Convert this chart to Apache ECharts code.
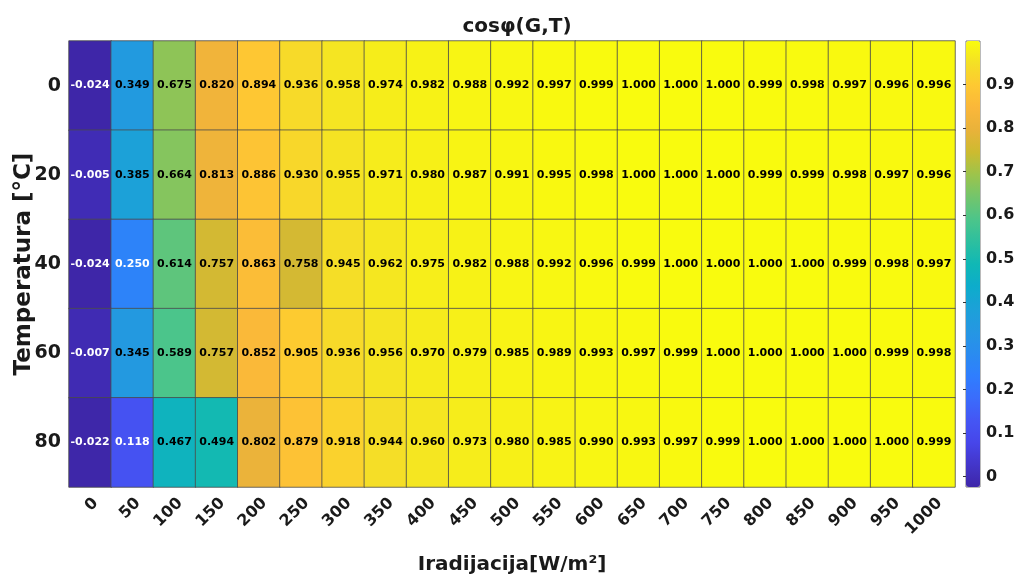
<!DOCTYPE html>
<html>
<head>
<meta charset="utf-8">
<script src="https://cdn.jsdelivr.net/npm/echarts@6/dist/echarts.min.js"></script>
<style>
html,body{margin:0;padding:0;background:#fff;}
#chart{width:1016px;height:577px;}
</style>
</head>
<body>
<div id="chart"></div>
<script>
const irradiance = ['0','50','100','150','200','250','300','350','400','450','500','550','600','650','700','750','800','850','900','950','1000'];
const temperature = ['0','20','40','60','80'];
const cosT0  = [-0.024,0.349,0.675,0.820,0.894,0.936,0.958,0.974,0.982,0.988,0.992,0.997,0.999,1.000,1.000,1.000,0.999,0.998,0.997,0.996,0.996];
const cosT20 = [-0.005,0.385,0.664,0.813,0.886,0.930,0.955,0.971,0.980,0.987,0.991,0.995,0.998,1.000,1.000,1.000,0.999,0.999,0.998,0.997,0.996];
const cosT40 = [-0.024,0.250,0.614,0.757,0.863,0.758,0.945,0.962,0.975,0.982,0.988,0.992,0.996,0.999,1.000,1.000,1.000,1.000,0.999,0.998,0.997];
const cosT60 = [-0.007,0.345,0.589,0.757,0.852,0.905,0.936,0.956,0.970,0.979,0.985,0.989,0.993,0.997,0.999,1.000,1.000,1.000,1.000,0.999,0.998];
const cosT80 = [-0.022,0.118,0.467,0.494,0.802,0.879,0.918,0.944,0.960,0.973,0.980,0.985,0.990,0.993,0.997,0.999,1.000,1.000,1.000,1.000,0.999];
const colorbarTicks = [0,0.1,0.2,0.3,0.4,0.5,0.6,0.7,0.8,0.9];
const colorMin = -0.024;
const colorMax = 1.0;

const parula = ['#3E26A8','#4336CA','#4746EA','#4456F4','#3A6DFC','#2F7EFE','#2A8CEF','#2597E2','#1CA1D8','#0DACCB','#10B8B5','#2DBF9F','#4CC58A','#73C56C','#9CC44C','#CCBB30','#E9B23A','#FAB73A','#FEC832','#F4E026','#F9FB0E'];

const rows = [cosT0, cosT20, cosT40, cosT60, cosT80];
const heatData = [];
rows.forEach((row, yi) => {
  row.forEach((v, xi) => {
    heatData.push({value:[xi, yi, v], label:{color: v < 0.3 ? '#ffffff' : '#000000'}});
  });
});

const FONT = 'DejaVu Sans';
const chart = echarts.init(document.getElementById('chart'), null, {renderer:'canvas'});
chart.setOption({
  animation:false,
  backgroundColor:'#ffffff',
  title:{
    text:'cosφ(G,T)', left:512, top:12, textAlign:'center',
    textStyle:{fontFamily:FONT, fontWeight:'bold', fontSize:20, color:'#1a1a1a'}
  },
  grid:[
    {left:69, right:61, top:41, bottom:90, outerBoundsMode:'none', containLabel:false},
    {left:966, top:41, width:14, height:446, show:true, borderColor:'#777', borderWidth:1, backgroundColor:'transparent', outerBoundsMode:'none', containLabel:false}
  ],
  xAxis:[
    {type:'category', gridIndex:0, data:irradiance,
     name:'Iradijacija[W/m²]', nameLocation:'middle', nameGap:68, nameMoveOverlap:false,
     nameTextStyle:{fontFamily:FONT, fontWeight:'bold', fontSize:20, color:'#1a1a1a'},
     axisLine:{show:false}, axisTick:{show:false}, splitLine:{show:false},
     axisLabel:{rotate:45, margin:8, verticalAlign:'top', fontFamily:FONT, fontWeight:'bold', fontSize:16, color:'#1a1a1a', interval:0}},
    {type:'value', gridIndex:1, show:false, min:0, max:1}
  ],
  yAxis:[
    {type:'category', gridIndex:0, data:temperature, inverse:true,
     name:'Temperatura [°C]', nameLocation:'middle', nameGap:33, nameMoveOverlap:false,
     nameTextStyle:{fontFamily:FONT, fontWeight:'bold', fontSize:23, color:'#1a1a1a'},
     axisLine:{show:false}, splitLine:{show:false},
     axisTick:{show:true, inside:true, length:4, alignWithLabel:true, lineStyle:{color:'#333'}},
     axisLabel:{margin:8, fontFamily:FONT, fontWeight:'bold', fontSize:19, color:'#1a1a1a'}},
    {type:'value', gridIndex:1, min:colorMin, max:colorMax, position:'right', z:10,
     axisLine:{show:false}, splitLine:{show:false},
     axisTick:{show:true, inside:true, length:3, customValues:colorbarTicks, lineStyle:{color:'#333'}},
     axisLabel:{customValues:colorbarTicks, margin:6, fontFamily:FONT, fontWeight:'bold', fontSize:16, color:'#1a1a1a',
       formatter: v => (Math.abs(v) < 1e-9 ? '0' : String(Math.round(v*10)/10))}}
  ],
  visualMap:{
    type:'continuous', seriesIndex:0, min:colorMin, max:colorMax, calculable:false,
    orient:'vertical', left:966, top:41, itemWidth:14, itemHeight:446, padding:0,
    text:null, showLabel:false, inRange:{color:parula}
  },
  series:[{
    type:'heatmap', xAxisIndex:0, yAxisIndex:0, data:heatData,
    itemStyle:{borderColor:'#4a4a4a', borderWidth:0.8},
    label:{show:true, formatter: p => p.value[2].toFixed(3), fontFamily:FONT, fontWeight:'bold', fontSize:11},
    emphasis:{disabled:true}
  }]
});
</script>
</body>
</html>
